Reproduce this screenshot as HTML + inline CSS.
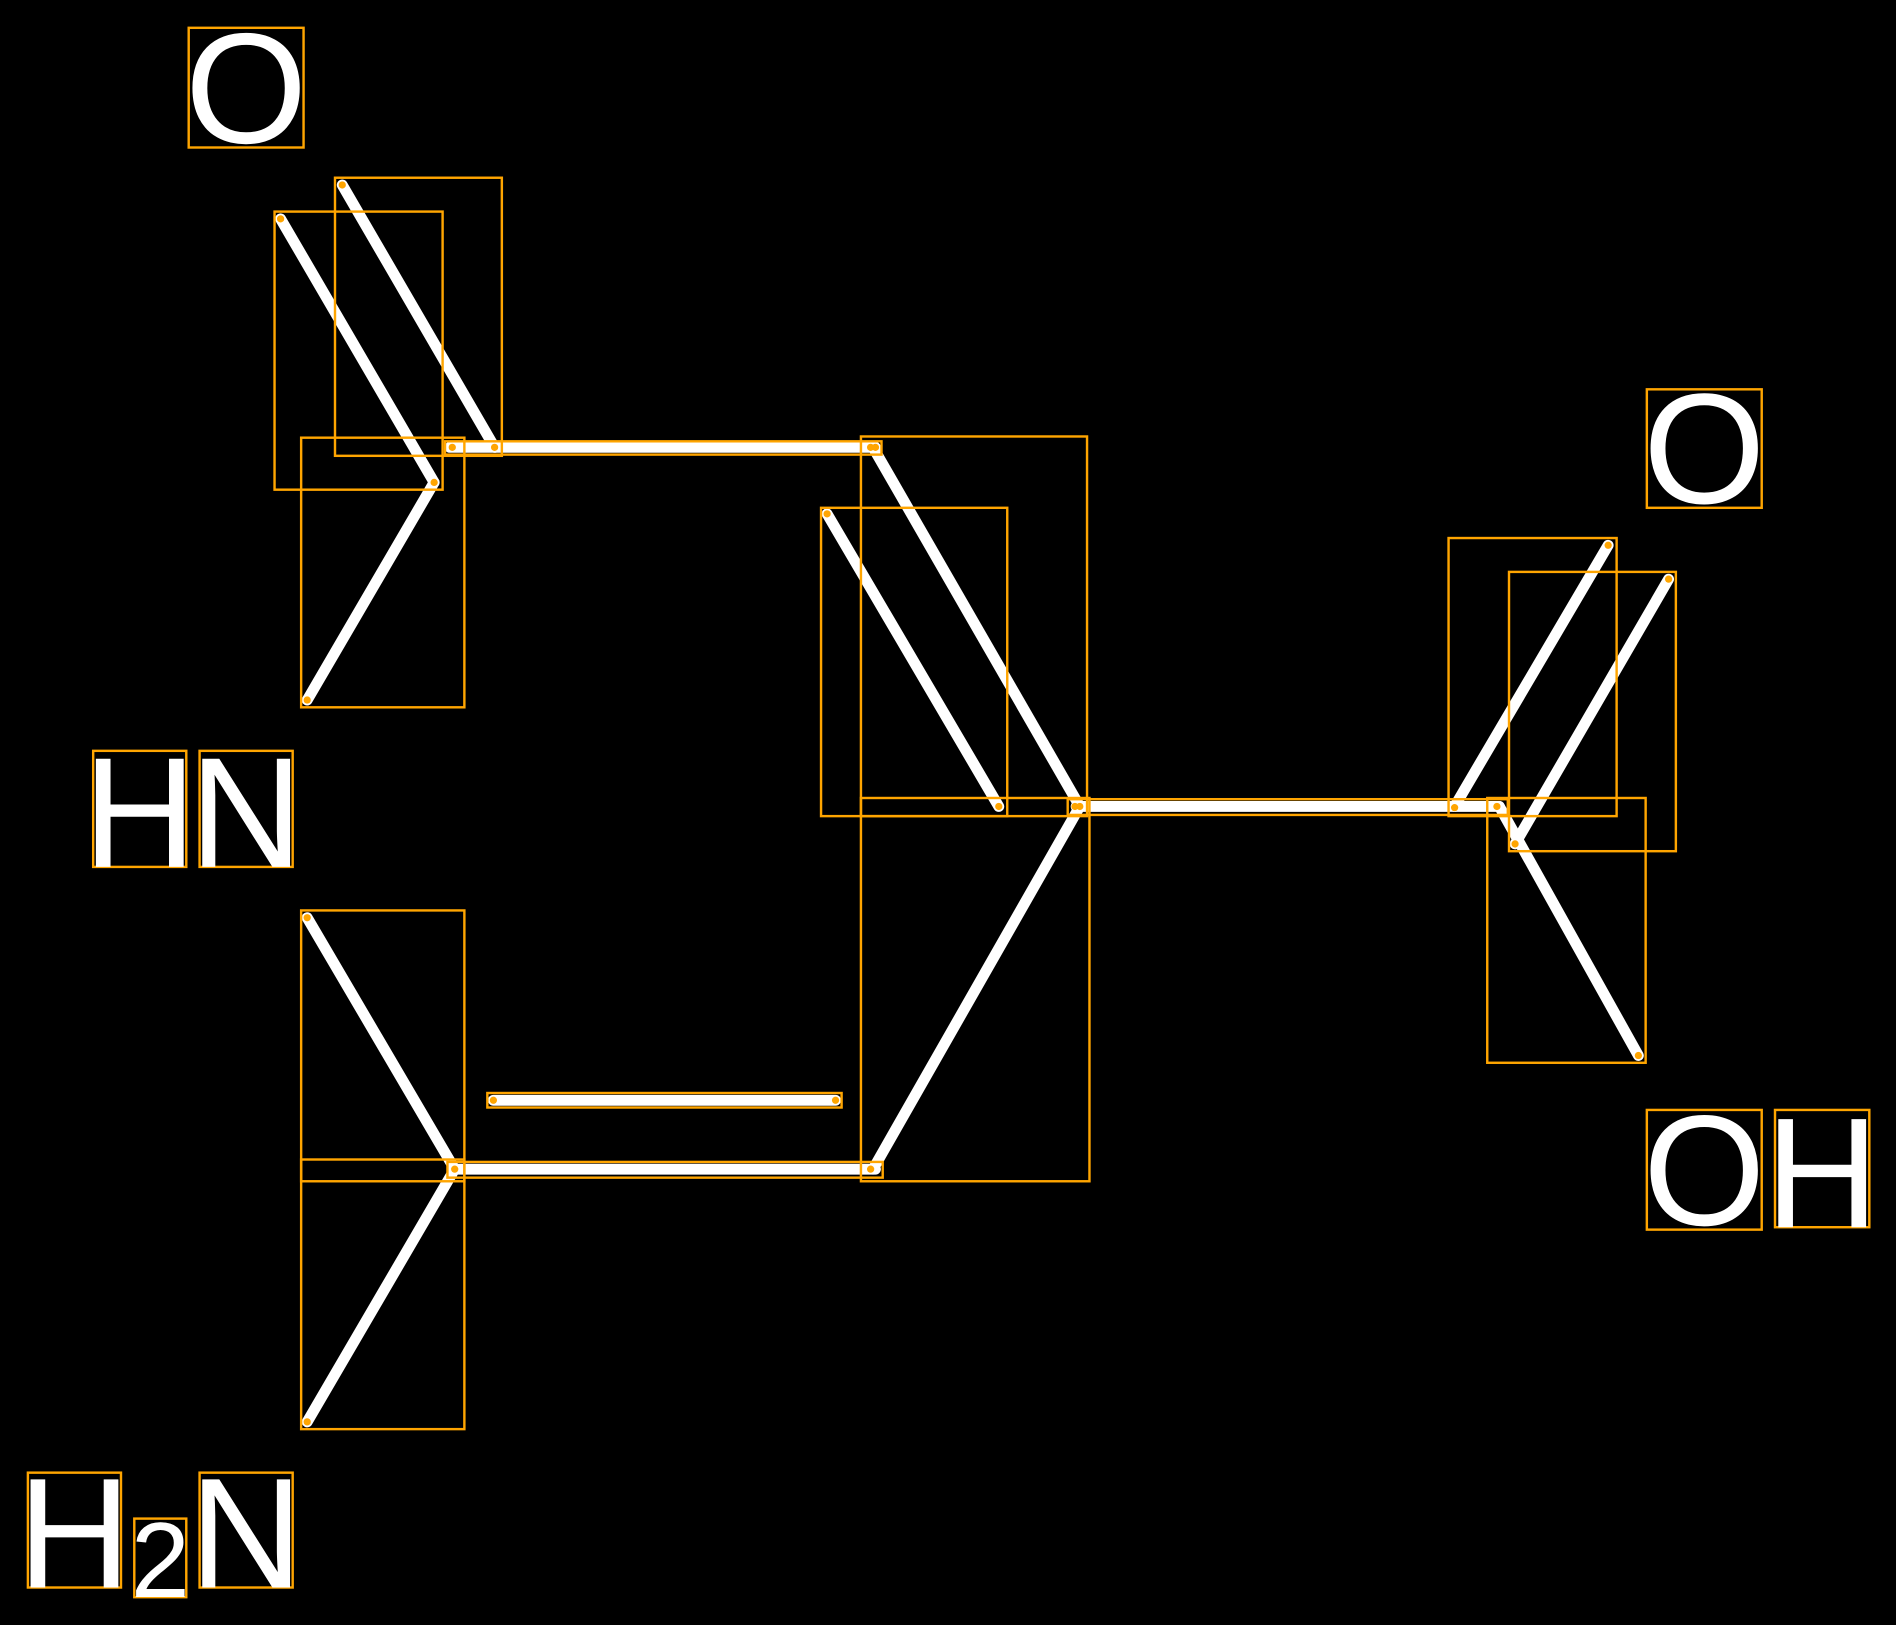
<!DOCTYPE html>
<html><head><meta charset="utf-8"><style>html,body{margin:0;padding:0;background:#000;}svg{display:block}</style></head>
<body>
<svg width="1896" height="1625" viewBox="0 0 1568 1344" xmlns="http://www.w3.org/2000/svg">
<rect width="1568" height="1344" fill="#000"/>
<g stroke="#fff" stroke-width="9" stroke-linecap="round" fill="none">
<line x1="283" y1="153" x2="409" y2="370"/>
<line x1="232" y1="181" x2="359" y2="399"/>
<line x1="359" y1="399" x2="254" y2="579"/>
<line x1="372" y1="370" x2="724" y2="370"/>
<line x1="722" y1="370" x2="893" y2="667"/>
<line x1="684" y1="425" x2="826" y2="667"/>
<line x1="890" y1="667" x2="1240" y2="667"/>
<line x1="1203" y1="667" x2="1330" y2="451"/>
<line x1="1253" y1="698" x2="1380" y2="479"/>
<line x1="1240" y1="667" x2="1355" y2="873"/>
<line x1="893" y1="667" x2="722" y2="967"/>
<line x1="376" y1="967" x2="724" y2="967"/>
<line x1="408" y1="910" x2="691" y2="910"/>
<line x1="254" y1="759" x2="376" y2="967"/>
<line x1="376" y1="967" x2="254" y2="1176"/>
</g>
<g stroke="#FFA500" stroke-width="2" fill="none">
<rect x="156" y="23" width="95" height="99"/>
<rect x="277" y="147" width="138" height="230"/>
<rect x="227" y="175" width="139" height="230"/>
<rect x="249" y="362" width="135" height="223"/>
<rect x="368" y="365" width="361" height="11"/>
<rect x="712" y="361" width="187" height="314"/>
<rect x="712" y="660" width="189" height="317"/>
<rect x="679" y="420" width="154" height="255"/>
<rect x="883" y="661" width="364" height="13"/>
<rect x="1198" y="445" width="139" height="230"/>
<rect x="1248" y="473" width="138" height="231"/>
<rect x="1230" y="660" width="131" height="219"/>
<rect x="1362" y="322" width="95" height="98"/>
<rect x="1362" y="918" width="95" height="99"/>
<rect x="1468" y="918" width="78" height="97"/>
<rect x="77" y="621" width="77" height="96"/>
<rect x="165" y="621" width="77" height="96"/>
<rect x="249" y="753" width="135" height="224"/>
<rect x="249" y="959" width="135" height="223"/>
<rect x="370" y="961" width="360" height="13"/>
<rect x="403" y="904" width="293" height="12"/>
<rect x="23" y="1218" width="77" height="95"/>
<rect x="111" y="1256" width="43" height="65"/>
<rect x="165" y="1218" width="77" height="95"/>
</g>
<g fill="#FFA500">
<circle cx="283" cy="153" r="3"/><circle cx="409" cy="370" r="3"/><circle cx="232" cy="181" r="3"/><circle cx="359" cy="399" r="3"/>
<circle cx="254" cy="579" r="3"/><circle cx="374" cy="370" r="3"/><circle cx="720" cy="370" r="3"/><circle cx="724" cy="370" r="3"/>
<circle cx="684" cy="425" r="3"/><circle cx="826" cy="667" r="3"/><circle cx="889" cy="667" r="3"/><circle cx="893" cy="667" r="3"/>
<circle cx="1203" cy="668" r="3"/><circle cx="1330" cy="451" r="3"/><circle cx="1253" cy="698" r="3"/><circle cx="1380" cy="479" r="3"/>
<circle cx="1238" cy="667" r="3"/><circle cx="1355" cy="873" r="3"/><circle cx="720" cy="967" r="3"/><circle cx="376" cy="967" r="3"/>
<circle cx="408" cy="910" r="3"/><circle cx="691" cy="910" r="3"/><circle cx="254" cy="759" r="3"/><circle cx="254" cy="1176" r="3"/>
</g>
<g fill="#fff" font-family="Liberation Sans, sans-serif" font-size="130" text-anchor="middle">
<text x="203.5" y="118">O</text>
<text x="1409.5" y="416">O</text>
<text x="1409.5" y="1013">O</text>
<text x="1507" y="1015">H</text>
<text x="115.5" y="717">H</text>
<text x="203.5" y="717">N</text>
<text x="61.5" y="1313">H</text>
<text x="203.5" y="1313">N</text>
<text x="132.5" y="1321" font-size="88">2</text>
</g>
</svg>
</body></html>
